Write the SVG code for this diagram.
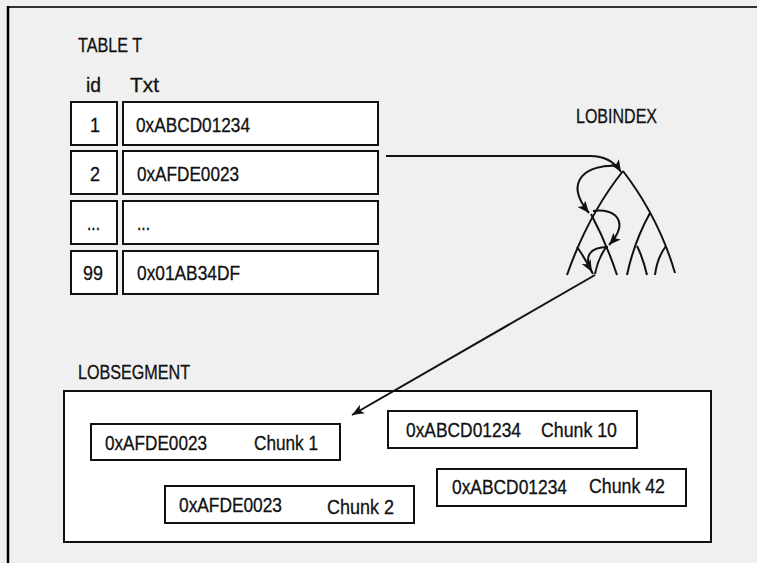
<svg xmlns="http://www.w3.org/2000/svg" width="757" height="563" viewBox="0 0 757 563">
<style>
  text { font-family: "Liberation Sans", Arial, sans-serif; font-size: 20px; fill: #111; stroke: #111; stroke-width: 0.3; }
  .box { fill: #fff; stroke: #111; stroke-width: 2; }
  .ln { fill: none; stroke: #111; stroke-width: 2; }
  .mid { text-anchor: middle; }
</style>
<defs>
  <marker id="ah" markerUnits="userSpaceOnUse" markerWidth="14" markerHeight="12" refX="12" refY="5" orient="auto">
    <path d="M0,0 L12,5 L0,10 L3,5 Z" fill="#111"/>
  </marker>
</defs>
<rect x="0" y="0" width="757" height="563" fill="#f0f0f0"/>
<g id="frame">
  <line x1="7" y1="7" x2="757" y2="7" stroke="#333" stroke-width="2"/>
  <line x1="8" y1="6" x2="8" y2="563" stroke="#000" stroke-width="2.5"/>
</g>
<g id="table-t">
  <text x="78" y="52" textLength="64" lengthAdjust="spacingAndGlyphs">TABLE T</text>
  <text x="86" y="92" textLength="15" lengthAdjust="spacingAndGlyphs">id</text>
  <text x="130" y="92" textLength="29" lengthAdjust="spacingAndGlyphs">Txt</text>
  <g id="row1">
    <rect class="box" x="71" y="102" width="46" height="43"/>
    <rect class="box" x="123" y="102" width="255" height="43"/>
    <text x="90" y="132" textLength="10" lengthAdjust="spacingAndGlyphs">1</text>
    <text x="136" y="132" textLength="114" lengthAdjust="spacingAndGlyphs">0xABCD01234</text>
  </g>
  <g id="row2">
    <rect class="box" x="71" y="151" width="46" height="43"/>
    <rect class="box" x="123" y="151" width="255" height="43"/>
    <text x="90" y="181" textLength="10" lengthAdjust="spacingAndGlyphs">2</text>
    <text x="137" y="181" textLength="102" lengthAdjust="spacingAndGlyphs">0xAFDE0023</text>
  </g>
  <g id="row3">
    <rect class="box" x="71" y="201" width="46" height="43"/>
    <rect class="box" x="123" y="201" width="255" height="43"/>
    <text x="87" y="230" textLength="13" lengthAdjust="spacingAndGlyphs">...</text>
    <text x="137" y="230" textLength="13" lengthAdjust="spacingAndGlyphs">...</text>
  </g>
  <g id="row4">
    <rect class="box" x="71" y="251" width="46" height="43"/>
    <rect class="box" x="123" y="251" width="255" height="43"/>
    <text x="83" y="280" textLength="20" lengthAdjust="spacingAndGlyphs">99</text>
    <text x="137" y="280" textLength="103" lengthAdjust="spacingAndGlyphs">0x01AB34DF</text>
  </g>
</g>
<g id="lobindex">
  <text x="576" y="123" textLength="81" lengthAdjust="spacingAndGlyphs">LOBINDEX</text>
  <path class="ln" d="M623,171 Q588,215 567,275"/>
  <path class="ln" d="M623,171 Q659,218 675,273"/>
  <path class="ln" d="M591,214 Q606,242 617,275"/>
  <path class="ln" d="M650,213 Q634,242 627,275"/>
  <path class="ln" d="M577,247 Q585,258 593,274"/>
  <path class="ln" d="M607,246 Q598,258 595,274"/>
  <path class="ln" d="M637,246 Q643,258 647,275"/>
  <path class="ln" d="M666,246 Q657,258 655,275"/>
</g>
<g id="lobsegment">
  <text x="78" y="379" textLength="112" lengthAdjust="spacingAndGlyphs">LOBSEGMENT</text>
  <rect class="box" x="64" y="391" width="647" height="151"/>
  <g id="chunk1">
    <rect class="box" x="91" y="424" width="249" height="36"/>
    <text x="105" y="450" textLength="102" lengthAdjust="spacingAndGlyphs">0xAFDE0023</text>
    <text x="254" y="450" textLength="64" lengthAdjust="spacingAndGlyphs">Chunk 1</text>
  </g>
  <g id="chunk2">
    <rect class="box" x="165" y="486" width="249" height="37"/>
    <text x="179" y="512" textLength="103" lengthAdjust="spacingAndGlyphs">0xAFDE0023</text>
    <text x="327" y="514" textLength="67" lengthAdjust="spacingAndGlyphs">Chunk 2</text>
  </g>
  <g id="chunk10">
    <rect class="box" x="388" y="411" width="249" height="37"/>
    <text x="406" y="437" textLength="115" lengthAdjust="spacingAndGlyphs">0xABCD01234</text>
    <text x="541" y="437" textLength="76" lengthAdjust="spacingAndGlyphs">Chunk 10</text>
  </g>
  <g id="chunk42">
    <rect class="box" x="437" y="469" width="249" height="37"/>
    <text x="452" y="494" textLength="115" lengthAdjust="spacingAndGlyphs">0xABCD01234</text>
    <text x="589" y="493" textLength="76" lengthAdjust="spacingAndGlyphs">Chunk 42</text>
  </g>
</g>
<g id="connectors">
  <path class="ln" d="M386,156 H590 Q611,156 621,172" marker-end="url(#ah)"/>
  <path class="ln" d="M617,166 C588,164 562,180 589,213" marker-end="url(#ah)"/>
  <path class="ln" d="M593,211 C616,208 630,222 609,245" marker-end="url(#ah)"/>
  <path class="ln" d="M608,247 C590,247 583,256 592,272" marker-end="url(#ah)"/>
  <path class="ln" d="M595,275 L352,415" marker-end="url(#ah)"/>
</g>
</svg>
